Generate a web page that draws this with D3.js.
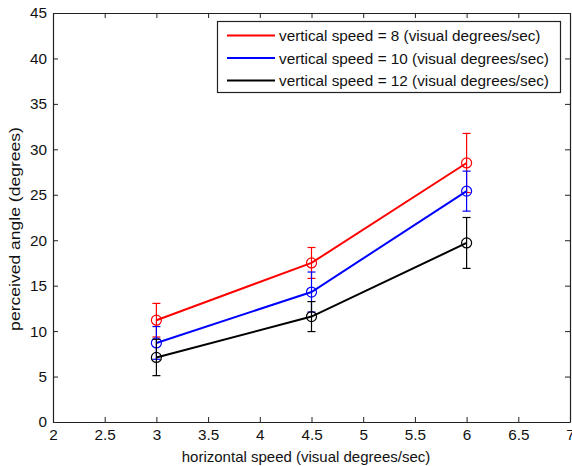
<!DOCTYPE html>
<html><head><meta charset="utf-8">
<script src="https://cdn.jsdelivr.net/npm/d3@7"></script>
<style>body{margin:0;background:#fff}svg{display:block;font-family:"Liberation Sans",Arial,sans-serif}</style>
</head><body><svg id="c" width="572" height="466"></svg>
<script>
const xs = [3, 4.5, 6];
const seriesNames = ["vertical speed = 8 (visual degrees/sec)", "vertical speed = 10 (visual degrees/sec)", "vertical speed = 12 (visual degrees/sec)"];
const seriesColors = ["#ff0000", "#0000ff", "#000000"];
const speed8 = [11.2, 17.5, 28.5];
const speed8Err = [1.85, 1.7, 3.25];
const speed10 = [8.7, 14.3, 25.4];
const speed10Err = [1.8, 2.2, 2.2];
const speed12 = [7.1, 11.6, 19.7];
const speed12Err = [2.0, 1.65, 2.8];
const xTicks = [2, 2.5, 3, 3.5, 4, 4.5, 5, 5.5, 6, 6.5, 7];
const yTicks = [0, 5, 10, 15, 20, 25, 30, 35, 40, 45];

const series = [
  {name: seriesNames[0], color: seriesColors[0], v: speed8, e: speed8Err},
  {name: seriesNames[1], color: seriesColors[1], v: speed10, e: speed10Err},
  {name: seriesNames[2], color: seriesColors[2], v: speed12, e: speed12Err}
];

const L = 53, R = 570, T = 13, B = 422;
const svg = d3.select("#c");
const x = d3.scaleLinear().domain([2, 7]).range([L, R]);
const y = d3.scaleLinear().domain([0, 45]).range([B, T]);

const axCol = "#222";
const FS = 15.3;
const gx = svg.append("g").attr("transform", `translate(0,${B})`)
  .call(d3.axisBottom(x).tickValues(xTicks).tickFormat(d3.format("")).tickSizeInner(-5).tickSizeOuter(0).tickPadding(7));
const gy = svg.append("g").attr("transform", `translate(${L},0)`)
  .call(d3.axisLeft(y).tickValues(yTicks).tickSizeInner(-5).tickSizeOuter(0).tickPadding(6));
const gx2 = svg.append("g").attr("transform", `translate(0,${T})`)
  .call(d3.axisTop(x).tickValues(xTicks).tickFormat("").tickSizeInner(-5).tickSizeOuter(0));
const gy2 = svg.append("g").attr("transform", `translate(${R},0)`)
  .call(d3.axisRight(y).tickValues(yTicks).tickFormat("").tickSizeInner(-5).tickSizeOuter(0));
[gx, gy, gx2, gy2].forEach(g => {
  g.selectAll("path").attr("stroke", axCol).attr("stroke-width", 1.2);
  g.selectAll("line").attr("stroke", axCol).attr("stroke-width", 1);
  g.selectAll("text").attr("font-size", FS).attr("fill", "#111").attr("font-family", "Liberation Sans, Arial, sans-serif");
});

const line = d3.line().x((d, i) => x(xs[i])).y(d => y(d));
series.forEach(s => {
  const g = svg.append("g");
  s.v.forEach((v, i) => {
    const cx = x(xs[i]), y1 = y(v + s.e[i]), y2 = y(v - s.e[i]);
    g.append("line").attr("x1", cx).attr("x2", cx).attr("y1", y1).attr("y2", y2).attr("stroke", s.color).attr("stroke-width", 1.2);
    [y1, y2].forEach(yy => g.append("line").attr("x1", cx - 4).attr("x2", cx + 4).attr("y1", yy).attr("y2", yy).attr("stroke", s.color).attr("stroke-width", 1.2));
  });
  g.append("path").datum(s.v).attr("d", line).attr("fill", "none").attr("stroke", s.color).attr("stroke-width", 2);
  g.selectAll("circle").data(s.v).join("circle")
    .attr("cx", (d, i) => x(xs[i])).attr("cy", d => y(d)).attr("r", 5)
    .attr("fill", "none").attr("stroke", s.color).attr("stroke-width", 1.2);
});

const lg = svg.append("g");
lg.append("rect").attr("x", 217.5).attr("y", 21.5).attr("width", 343).attr("height", 71)
  .attr("fill", "#fff").attr("stroke", axCol).attr("stroke-width", 1.2);
series.forEach((s, i) => {
  const yy = 35.5 + i * 22.5;
  lg.append("line").attr("x1", 227).attr("x2", 275).attr("y1", yy).attr("y2", yy).attr("stroke", s.color).attr("stroke-width", 2);
  lg.append("text").attr("x", 279).attr("y", yy + 5.5).attr("font-size", FS).attr("fill", "#111").text(s.name);
});

svg.append("text").attr("x", 306).attr("y", 462).attr("text-anchor", "middle").attr("font-size", 15).attr("fill", "#111")
  .text("horizontal speed (visual degrees/sec)");
svg.append("text").attr("transform", `translate(20,229) rotate(-90) scale(1.17,1)`).attr("text-anchor", "middle").attr("font-size", 15).attr("fill", "#111")
  .text("perceived angle (degrees)");
</script></body></html>
